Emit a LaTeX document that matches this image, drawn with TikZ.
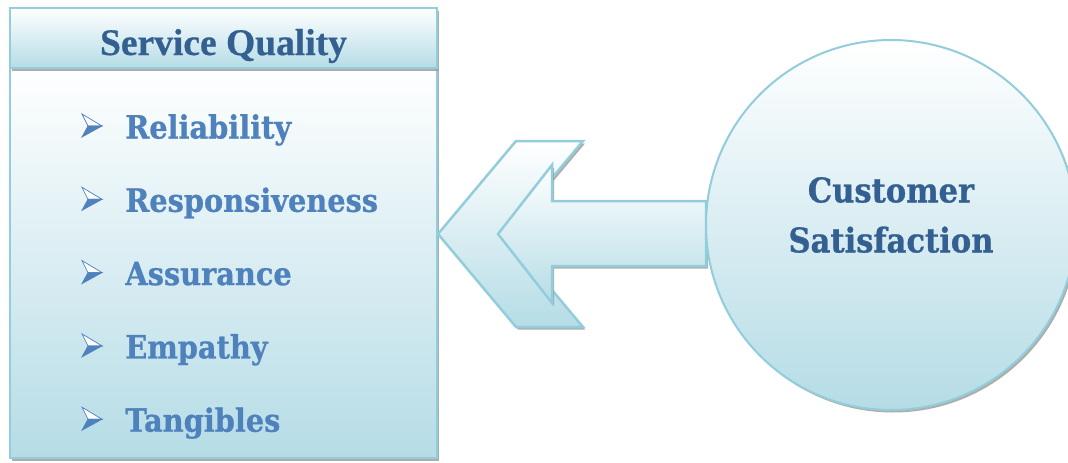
\documentclass[tikz,border=0pt]{standalone}
\usepackage{fontspec}
\setmainfont{Liberation Serif}[BoldFeatures={FakeBold=0.6}]
\newfontfamily\itemfont{DejaVu Serif}[FakeStretch=0.9, BoldFeatures={FakeBold=0.8}]
\usetikzlibrary{shadows}

\definecolor{rimblue}{HTML}{92CDDC}
\definecolor{fillblue}{HTML}{B5DCE6}
\definecolor{headtext}{HTML}{335F91}
\definecolor{itemtext}{HTML}{4F81BD}

\begin{document}
\begin{tikzpicture}[
        x=1pt, y=-1pt,
        thick,
        softshadow/.style={drop shadow={shadow xshift=2pt, shadow yshift=-2.5pt, fill=black!40, opacity=0.8}},
        panel/.style={rectangle, draw=rimblue, line width=2.5pt, top color=white, bottom color=fillblue, softshadow, inner sep=0pt},
        head/.style={panel, minimum width=427pt, minimum height=60pt},
        headlabel/.style={anchor=base, inner sep=0pt, font=\bfseries\fontsize{37.5}{40}\selectfont, text=headtext},
        body/.style={panel, minimum width=427pt, minimum height=390pt},
        bulletline/.style={draw=itemtext, line width=0.7pt, line join=miter},
        item/.style={font=\itemfont\bfseries\fontsize{32}{34}\selectfont, text=itemtext, anchor=base west, inner sep=0pt},
        bigarrow/.style={draw=rimblue, line width=2.5pt, line join=miter, top color=white, bottom color=fillblue, softshadow},
        sat/.style={circle, draw=rimblue, line width=2pt, minimum size=370pt, top color=white, bottom color=fillblue, softshadow},
        satlabel/.style={align=center, inner sep=0pt, text=headtext, font=\itemfont\bfseries\fontsize{34}{50}\selectfont}
    ]
        \clip (0,0) rectangle (1068,463);

        % Service quality box
        \node[body] (sq_body) at (223.5,263) {};
        \node[head] (sq_head) at (223.5,38) {};
        \node[headlabel] (sq_title) at (223.5,55) {Service Quality};

        % Dimensions of service quality, each with an arrowhead bullet
        \foreach \txt [count=\i] in {Reliability, Responsiveness, Assurance, Empathy, Tangibles} {
            \coordinate (dot\i) at (92,{126+73.3*(\i-1)});
            \filldraw[bulletline, fill=white] ([shift={(-10,-12)}]dot\i) -- ([shift={(10,0)}]dot\i) -- ([shift={(-4,0)}]dot\i) -- cycle;
            \filldraw[bulletline, fill=itemtext] ([shift={(-4,0)}]dot\i) -- ([shift={(10,0)}]dot\i) -- ([shift={(-10,11)}]dot\i) -- cycle;
            \node[item] (dim\i) at (125,{138.5+73.3*(\i-1)}) {\txt};
        }

        % Arrow from satisfaction to service quality
        \coordinate (tip) at (438,234);
        \coordinate (notch) at (498,234);
        \filldraw[bigarrow] (tip) -- (516,141) -- (583,141) -- (505,234) -- (583,327) -- (516,327) -- cycle;
        \filldraw[bigarrow] (notch) -- (552,165) -- (552,201) -- (706,201) -- (706,266) -- (552,266) -- (552,303) -- cycle;

        % Customer satisfaction circle
        \node[sat] (cs) at (891,225) {};
        \node[satlabel] (cs_text) at ([yshift=10pt]cs.center) {Customer\\Satisfaction};

    \end{tikzpicture}
\end{document}
